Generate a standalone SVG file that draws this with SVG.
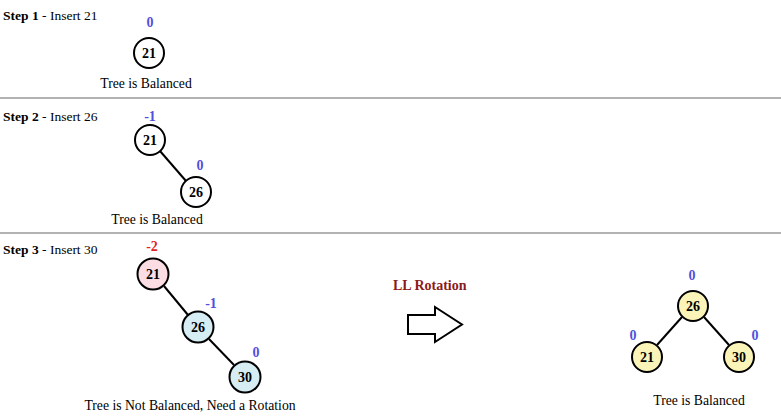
<svg xmlns="http://www.w3.org/2000/svg" width="781" height="416" viewBox="0 0 781 416" font-family="'Liberation Serif', 'Times New Roman', serif">
<defs>
<style>
text{font-family:'Liberation Serif','Times New Roman',serif;font-size:14px;fill:#000}
.step{font-size:13.5px}
.b{font-weight:bold}
.num{font-weight:bold;font-size:14px;text-anchor:middle}
.bf{fill:#5050dd;font-weight:bold;font-size:14px;text-anchor:middle}
.rf{fill:#e02525;font-weight:bold;font-size:14px;text-anchor:middle}
.cap{text-anchor:middle;font-size:13.7px}
.n{stroke:#000;stroke-width:2}
.w{fill:#fff}
.p{fill:#fcdde4}
.lb{fill:#d6edf4}
.y{fill:#fbf4b8}
.sep{stroke:#999;stroke-width:1.5}
.e{stroke:#000;stroke-width:2}
</style>
</defs>
<rect width="781" height="416" fill="#fff"/>
<line class="sep" x1="0" y1="98" x2="781" y2="98"/>
<line class="sep" x1="0" y1="233" x2="781" y2="233"/>
<g id="connectors">
<line class="e" x1="160" y1="151" x2="186" y2="181"/>
<line class="e" x1="164" y1="286" x2="188" y2="315"/>
<line class="e" x1="209" y1="339" x2="234" y2="365"/>
<line class="e" x1="682" y1="317" x2="657" y2="345"/>
<line class="e" x1="704" y1="317" x2="729" y2="345"/>
</g>
<text x="3" y="20" class="step"><tspan class="b">Step 1</tspan> - Insert 21</text>
<text x="3" y="121" class="step"><tspan class="b">Step 2</tspan> - Insert 26</text>
<text x="3" y="254" class="step"><tspan class="b">Step 3</tspan> - Insert 30</text>
<g id="s1-n21">
<text x="150" y="27" class="bf">0</text>
<circle class="n w" cx="149" cy="53" r="15"/>
<text x="149" y="58" class="num">21</text>
</g>
<text x="146" y="88" class="cap">Tree is Balanced</text>
<g id="s2-n21">
<text x="150" y="121" class="bf">-1</text>
<circle class="n w" cx="150" cy="140" r="15"/>
<text x="150" y="145" class="num">21</text>
</g>
<g id="s2-n26">
<text x="200" y="170" class="bf">0</text>
<circle class="n w" cx="196" cy="192" r="15"/>
<text x="196" y="197" class="num">26</text>
</g>
<text x="157" y="224" class="cap">Tree is Balanced</text>
<g id="s3-n21">
<text x="152" y="251" class="rf">-2</text>
<circle class="n p" cx="153" cy="274" r="15.5"/>
<text x="153" y="279" class="num">21</text>
</g>
<g id="s3-n26">
<text x="211" y="308" class="bf">-1</text>
<circle class="n lb" cx="198" cy="327" r="15.5"/>
<text x="198" y="332" class="num">26</text>
</g>
<g id="s3-n30">
<text x="256" y="357" class="bf">0</text>
<circle class="n lb" cx="245" cy="377" r="15.5"/>
<text x="245" y="382" class="num">30</text>
</g>
<text x="190" y="410" class="cap">Tree is Not Balanced, Need a Rotation</text>
<text x="393" y="290" class="b" style="fill:#8b1a1a">LL Rotation</text>
<g id="arrow">
<polygon points="408,315 435,315 435,307 462,324.5 435,342 435,334 408,334" fill="#fff" stroke="#000" stroke-width="2"/>
</g>
<g id="r-n26">
<text x="692" y="280" class="bf">0</text>
<circle class="n y" cx="693" cy="306" r="15"/>
<text x="693" y="311" class="num">26</text>
</g>
<g id="r-n21">
<text x="633" y="340" class="bf">0</text>
<circle class="n y" cx="647" cy="357" r="15"/>
<text x="647" y="362" class="num">21</text>
</g>
<g id="r-n30">
<text x="755" y="340" class="bf">0</text>
<circle class="n y" cx="739" cy="357" r="15"/>
<text x="739" y="362" class="num">30</text>
</g>
<text x="699" y="405" class="cap">Tree is Balanced</text>
</svg>
